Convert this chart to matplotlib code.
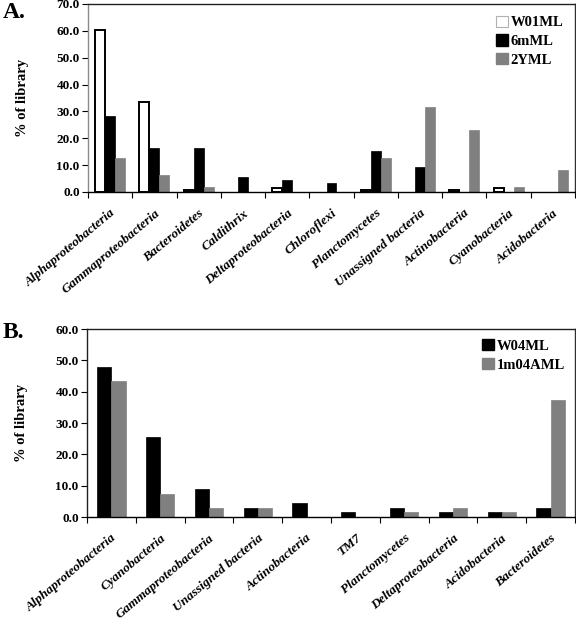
import matplotlib
matplotlib.use("Agg")
import matplotlib.pyplot as plt
import matplotlib.transforms as mtransforms
import numpy as np
from matplotlib.patches import Patch

plt.rcParams['font.family'] = ['Liberation Serif', 'DejaVu Serif']

# Panel A data
cats_a = ["Alphaproteobacteria", "Gammaproteobacteria", "Bacteroidetes", "Caldithrix",
          "Deltaproteobacteria", "Chloroflexi", "Planctomycetes", "Unassigned bacteria",
          "Actinobacteria", "Cyanobacteria", "Acidobacteria"]
w01ml = [60.4, 33.6, 0.9, 0.0, 1.6, 0.0, 0.8, 0.0, 0.8, 1.6, 0.0]
m6ml = [28.2, 16.3, 16.3, 5.7, 4.5, 3.3, 15.1, 9.2, 0.0, 0.0, 0.0]
y2ml = [12.5, 6.2, 2.0, 0.0, 0.0, 0.0, 12.5, 31.6, 23.2, 1.9, 8.3]
series_a = ["W01ML", "6mML", "2YML"]

# Panel B data
cats_b = ["Alphaproteobacteria", "Cyanobacteria", "Gammaproteobacteria", "Unassigned bacteria",
          "Actinobacteria", "TM7", "Planctomycetes", "Deltaproteobacteria",
          "Acidobacteria", "Bacteroidetes"]
w04ml = [47.8, 25.4, 9.0, 3.0, 4.5, 1.5, 3.0, 1.5, 1.5, 3.0]
m1_04aml = [43.3, 7.5, 3.0, 3.0, 0.0, 0.0, 1.5, 3.0, 1.5, 37.3]
series_b = ["W04ML", "1m04AML"]

yticks_a = [0, 10, 20, 30, 40, 50, 60, 70]
yticks_b = [0, 10, 20, 30, 40, 50, 60]

GRAY = '#808080'

fig = plt.figure(figsize=(5.76, 6.22), dpi=100)
W, H = 576, 622

def make_ax(left, top, right, bottom):
    return fig.add_axes([left / W, 1 - bottom / H, (right - left) / W, (bottom - top) / H])

axA = make_ax(88, 4, 575, 192)
axB = make_ax(87, 329, 575, 517)

def nonzero_bars(ax, x, vals, width, **kw):
    x = np.asarray(x)
    v = np.asarray(vals, dtype=float)
    m = v > 0
    return ax.bar(x[m], v[m], width, **kw)

def style_axis(ax, cats, yticks, left_color):
    n = len(cats)
    ax.set_xlim(0, n)
    ax.set_ylim(yticks[0], yticks[-1])
    ax.set_yticks(yticks)
    ax.set_yticklabels([f"{v:.1f}" for v in yticks], fontsize=9.5, fontweight='bold')
    ax.set_xticks(np.arange(n + 1))
    ax.set_xticklabels([])
    ax.set_xticks(np.arange(n) + 0.5, minor=True)
    labels = ax.set_xticklabels(cats, minor=True, rotation=40, ha='right', rotation_mode='anchor',
                                fontsize=9.6, fontweight='bold', fontstyle='italic')
    off = mtransforms.ScaledTranslation(-7 / 100, 0, fig.dpi_scale_trans)
    for lab in labels:
        lab.set_transform(lab.get_transform() + off)
    ax.tick_params(axis='x', which='minor', length=0, pad=11)
    ax.tick_params(axis='x', which='major', direction='out', length=4, width=0.8)
    ax.tick_params(axis='y', direction='out', length=4, width=0.8, pad=2)
    for s in ax.spines.values():
        s.set_linewidth(1.0)
    ax.spines['left'].set_color(left_color)
    ax.spines['top'].set_color('#202020')
    ax.spines['right'].set_color('#303030')
    ax.spines['bottom'].set_color('black')
    ax.set_ylabel("% of library", fontsize=10.5, fontweight='bold', labelpad=20)

# Panel A bars
xa = np.arange(len(cats_a)) + 0.5
bw = 0.225
nonzero_bars(axA, xa - bw, w01ml, bw, color='white', edgecolor='black', linewidth=1.4)
nonzero_bars(axA, xa, m6ml, bw, color='black', edgecolor='black', linewidth=0.5)
nonzero_bars(axA, xa + bw, y2ml, bw, color=GRAY, edgecolor=GRAY, linewidth=0.5)
style_axis(axA, cats_a, yticks_a, '#8a8a8a')
handles_a = [Patch(facecolor='white', edgecolor='#b0b0b0', linewidth=0.8),
             Patch(facecolor='black', edgecolor='black'),
             Patch(facecolor=GRAY, edgecolor=GRAY)]
axA.legend(handles_a, series_a, loc='upper right', frameon=False,
           prop={'weight': 'bold', 'size': 10.5}, handlelength=0.8, handleheight=0.8,
           handletextpad=0.2, labelspacing=0.35, borderaxespad=0.4)

# Panel B bars
xb = np.arange(len(cats_b)) + 0.5
bw2 = 0.29
nonzero_bars(axB, xb - bw2 / 2, w04ml, bw2, color='black', edgecolor='black', linewidth=0.5)
nonzero_bars(axB, xb + bw2 / 2, m1_04aml, bw2, color=GRAY, edgecolor=GRAY, linewidth=0.5)
style_axis(axB, cats_b, yticks_b, '#202020')
handles_b = [Patch(facecolor='black', edgecolor='black'),
             Patch(facecolor=GRAY, edgecolor=GRAY)]
axB.legend(handles_b, series_b, loc='upper right', frameon=False,
           prop={'weight': 'bold', 'size': 10.5},
           handlelength=0.8, handleheight=0.8, handletextpad=0.2, labelspacing=0.35,
           borderaxespad=0.3)

fig.text(3 / W, 1 - 13 / H, "A.", fontsize=17, fontweight='bold', va='center', ha='left')
fig.text(3 / W, 1 - 333 / H, "B.", fontsize=17, fontweight='bold', va='center', ha='left')

fig.savefig("out.png", dpi=100)
